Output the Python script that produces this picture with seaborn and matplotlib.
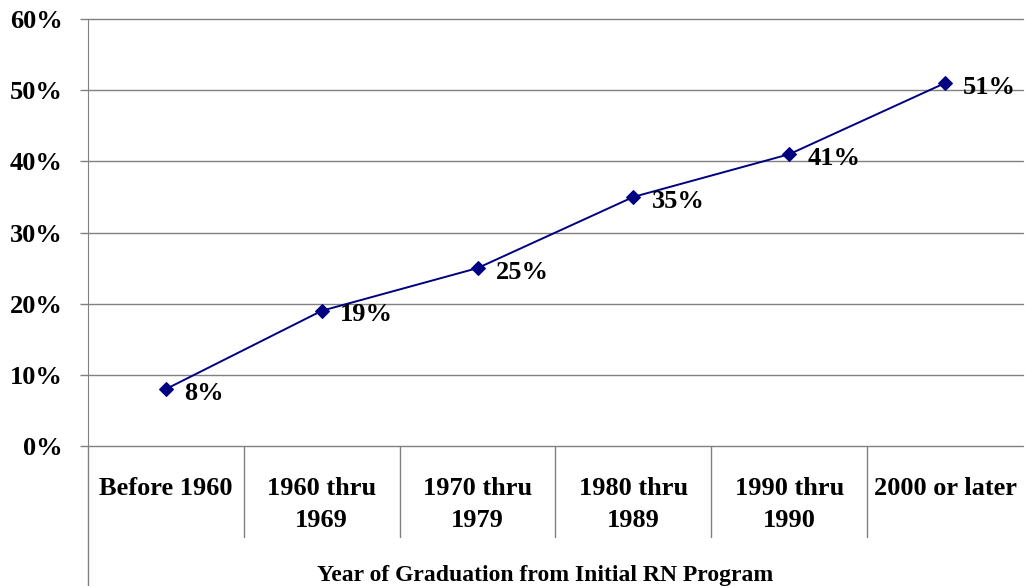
import numpy as np
import pandas as pd
import matplotlib
matplotlib.use('Agg')
import matplotlib.pyplot as plt
import matplotlib.transforms as mtrans
import seaborn as sns

categories = ['Before 1960', '1960 thru\n1969', '1970 thru\n1979', '1980 thru\n1989',
              '1990 thru\n1990', '2000 or later']
values = [8, 19, 25, 35, 41, 51]
y_ticks = [0, 10, 20, 30, 40, 50, 60]
x_title = 'Year of Graduation from Initial RN Program'

df = pd.DataFrame({'cat': categories, 'pct': values})

sns.set_style('white')
plt.rcParams['font.family'] = ['Liberation Serif', 'DejaVu Serif']
plt.rcParams['font.weight'] = 'bold'
plt.rcParams['text.color'] = 'black'
plt.rcParams['xtick.color'] = 'black'
plt.rcParams['ytick.color'] = 'black'
plt.rcParams['axes.labelcolor'] = 'black'

fig = plt.figure(figsize=(10.25, 5.86), dpi=100)
ax = fig.add_axes([88 / 1025, 1 - 446 / 586, (1023 - 88) / 1025, (446 - 19) / 586])

sns.lineplot(data=df, x='cat', y='pct', ax=ax, color='#000080', lw=1.4,
             marker='D', markersize=7.5, markeredgecolor='#000080', sort=False)

fs = 19
ax.set_xlim(-0.5, 5.5)
ax.set_ylim(0, 60)
ax.set_yticks(y_ticks)
ax.set_yticklabels([f'{v}%' for v in y_ticks], fontsize=fs, fontweight='bold')
ax.yaxis.grid(False)
for v in y_ticks:
    ax.axhline(v, color='#808080', lw=1, clip_on=False, zorder=0)
for s in ['top', 'right', 'bottom']:
    ax.spines[s].set_visible(False)
ax.spines['left'].set_color('#808080')
ax.tick_params(axis='y', length=6, width=1, color='#808080', pad=12, left=True,
               labelcolor='black')
ax.tick_params(axis='x', length=0, pad=22, labelcolor='black')

ax.set_xticks(range(len(categories)))
ax.set_xticklabels(categories, fontsize=fs, fontweight='bold', linespacing=1.55)
ax.set_xlabel(x_title, fontsize=17, fontweight='bold')
ax.xaxis.set_label_coords((545 - 88) / 935, -(575 - 446) / 427)
ax.xaxis.label.set_va('center')
ax.set_ylabel('')

# category separators and extended y axis line below the plot
tr = mtrans.blended_transform_factory(ax.transData, ax.transAxes)
for i in range(1, len(categories)):
    ax.plot([i - 0.5, i - 0.5], [0, -(537 - 446) / 427], transform=tr,
            color='#808080', lw=1, clip_on=False)
ax.plot([-0.5, -0.5], [0, -(586 - 446) / 427], transform=tr,
        color='#808080', lw=1, clip_on=False)

for i, v in enumerate(values):
    ax.annotate(f'{v}%', (i, v), xytext=(13, -3), textcoords='offset points',
                ha='left', va='center', fontsize=fs, fontweight='bold')

fig.savefig('out.png', dpi=100)
